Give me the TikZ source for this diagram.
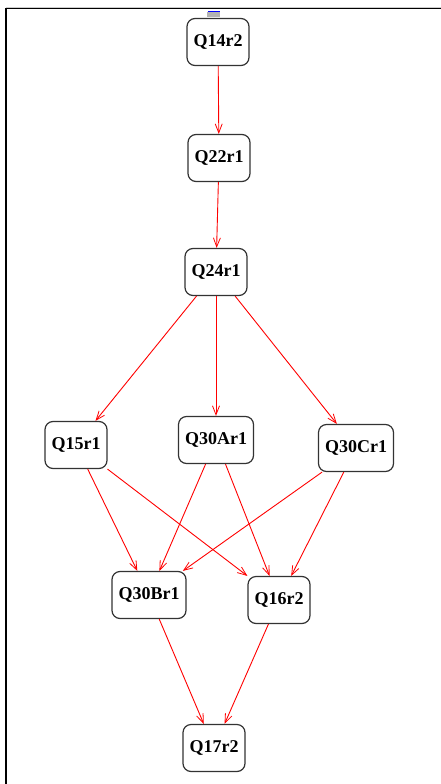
\documentclass[tikz,border=0pt]{standalone}
\usepackage{fontspec}
\setmainfont{Liberation Serif}
\usetikzlibrary{arrows.meta}
\begin{document}
\begin{tikzpicture}[x=1pt,y=-1pt,
  state/.style={draw=black!80,line width=1.2pt,rounded corners=8pt,fill=white,
    minimum height=47pt,inner xsep=6.5pt,inner ysep=0pt,
    font=\fontsize{18}{20}\selectfont\bfseries},
  link/.style={draw=red,line width=0.9pt,-{Straight Barb[length=9pt,width=7pt,line width=0.8pt]}}]
\useasboundingbox (0,0) rectangle (441,784);
% frame lines
\draw[black!20,line width=0.8pt] (6,7) -- (441,7);
\draw[line width=1.3pt] (441,8.5) -- (6,8.5) -- (6,784);

% states
\node[state] (q14) at (218,42) {Q14r2};
\node[state] (q22) at (219,158) {Q22r1};
\node[state] (q24) at (216,272) {Q24r1};
\node[state] (q15) at (76,445) {Q15r1};
\node[state] (q30a) at (216,440) {Q30Ar1};
\node[state] (q30c) at (356,448) {Q30Cr1};
\node[state] (q30b) at (149,595) {Q30Br1};
\node[state] (q16) at (279,600) {Q16r2};
\node[state] (q17) at (214,748) {Q17r2};

% small marker on top of the first state
\coordinate (mk) at (213.5,15);
\fill[black!30] ([xshift=-6.5pt,yshift=-2.5pt]mk) rectangle ([xshift=6.5pt,yshift=2.5pt]mk);
\draw[blue,line width=1pt] ([xshift=-6pt,yshift=3pt]mk) -- ([xshift=6pt,yshift=3pt]mk);

% transitions
\draw[link] (q14) -- (q22);
\draw[link] (q22) -- (q24);
\draw[link] (q24) -- (q15);
\draw[link] (q24) -- (q30a);
\draw[link] (q24) -- (q30c);
\draw[link] (q15) -- (q30b);
\draw[link] (q15) -- (q16);
\draw[link] (q30a) -- (q30b);
\draw[link] (q30a) -- (q16);
\draw[link] (q30c) -- (q30b);
\draw[link] (q30c) -- (q16);
\draw[link] (q30b) -- (q17);
\draw[link] (q16) -- (q17);
\end{tikzpicture}
\end{document}
